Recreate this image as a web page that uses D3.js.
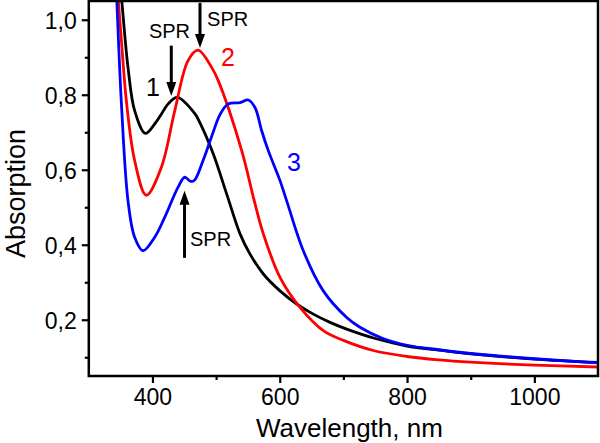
<!DOCTYPE html>
<html>
<head>
<meta charset="utf-8">
<script src="https://cdn.jsdelivr.net/npm/d3@7"></script>
<style>
  html, body { margin: 0; padding: 0; background: #fff; }
  svg { display: block; }
  text { font-family: "Liberation Sans", Arial, Helvetica, sans-serif; }
</style>
</head>
<body>
<svg id="chart" width="600" height="443"></svg>
<script>
// ---- Data ----
const wl1  = [348.5, 351.7, 361.6, 372.1, 388.8, 403.5, 413.9, 424.4, 439, 466.9, 474.7, 495.6, 516.7, 537.6, 553.3, 574.2, 600.4, 626.6, 652.7, 679, 705.2, 750, 800, 850, 900, 1000, 1100];
const abs1 = [1.10, 1.051, 0.873, 0.757, 0.697, 0.722, 0.748, 0.775, 0.793, 0.749, 0.725, 0.642, 0.535, 0.429, 0.375, 0.322, 0.277, 0.242, 0.215, 0.193, 0.175, 0.150, 0.130, 0.119, 0.109, 0.095, 0.086];

const wl2  = [343.5, 346.3, 351, 359, 372.1, 390.3, 413.9, 435, 455.9, 471.6, 493, 503.5, 540.2, 560, 574.2, 600.4, 631.8, 668.4, 700, 747, 800, 850, 900, 1000, 1100];
const abs2 = [1.11, 1.051, 0.95, 0.784, 0.624, 0.532, 0.606, 0.757, 0.891, 0.919, 0.873, 0.837, 0.651, 0.517, 0.429, 0.313, 0.233, 0.171, 0.145, 0.118, 0.102, 0.093, 0.087, 0.079, 0.074];

const wl3  = [342, 344, 351, 361.6, 372, 385.2, 403.5, 419.2, 440.1, 450.7, 460, 466, 479.4, 493.5, 506.1, 518.7, 537.6, 550.6, 561.1, 571.6, 582, 600.4, 610.9, 637, 668.4, 705.2, 726, 762, 800, 850, 900, 1000, 1100];
const abs3 = [1.12, 1.051, 0.784, 0.517, 0.42, 0.384, 0.42, 0.473, 0.553, 0.580, 0.569, 0.572, 0.624, 0.691, 0.747, 0.775, 0.779, 0.786, 0.766, 0.704, 0.651, 0.571, 0.517, 0.384, 0.277, 0.206, 0.180, 0.150, 0.132, 0.120, 0.110, 0.096, 0.085];

const seriesNames  = ["1", "2", "3"];
const seriesColors = ["#000000", "#ff0000", "#0000ff"];

const xMajorTicks = [400, 600, 800, 1000];
const xMinorTicks = [500, 700, 900];
const yMajorTicks = [0.2, 0.4, 0.6, 0.8, 1.0];
const yMinorTicks = [0.1, 0.3, 0.5, 0.7, 0.9];

// annotation anchors in data space (wavelength, absorption)
const arrowsDown = [ {x: 429.6, y0: 0.931, y1: 0.797}, {x: 474.7, y0: 1.045, y1: 0.925} ];
const arrowsUp   = [ {x: 450.4, y0: 0.365, y1: 0.544} ];
const sprLabels  = [ {x: 426.8, y: 0.952, anchor: "middle"}, {x: 485.8, y: 0.984, anchor: "start"}, {x: 459, y: 0.397, anchor: "start"} ];
const numLabels  = [ {x: 389.9, y: 0.797}, {x: 507.7, y: 0.877}, {x: 611.4, y: 0.597} ];

// ---- Layout ----
const mLeft = 88.8, mRight = 598, mTop = 1, mBottom = 376;

const x = d3.scaleLinear().domain([300, 1100]).range([mLeft, mRight]);
const y = d3.scaleLinear().domain([0.05, 1.05]).range([mBottom, mTop]);

const svg = d3.select("#chart");

svg.append("defs").append("clipPath").attr("id", "plotclip")
  .append("rect").attr("x", mLeft).attr("y", mTop).attr("width", mRight - mLeft).attr("height", mBottom - mTop);

// curves
const line = d3.line().x(d => x(d[0])).y(d => y(d[1])).curve(d3.curveCatmullRom.alpha(0.5));
const allSeries = [d3.zip(wl1, abs1), d3.zip(wl2, abs2), d3.zip(wl3, abs3)];
const g = svg.append("g").attr("clip-path", "url(#plotclip)");
allSeries.forEach((s, i) => {
  g.append("path").datum(s).attr("d", line)
    .attr("fill", "none").attr("stroke", seriesColors[i]).attr("stroke-width", 2.8)
    .attr("stroke-linejoin", "round");
});

// frame
svg.append("rect").attr("x", mLeft).attr("y", mTop).attr("width", mRight - mLeft).attr("height", mBottom - mTop)
  .attr("fill", "none").attr("stroke", "#000").attr("stroke-width", 2.5);

// axes ticks
const xAxisMajor = d3.axisBottom(x).tickValues(xMajorTicks).tickSize(7).tickFormat(d3.format("d")).tickPadding(6);
const xAxisMinor = d3.axisBottom(x).tickValues(xMinorTicks).tickSize(4).tickFormat("");
const fmtY = d => d3.format(".1f")(d).replace(".", ",");
const yAxisMajor = d3.axisLeft(y).tickValues(yMajorTicks).tickSize(7).tickFormat(fmtY).tickPadding(5);
const yAxisMinor = d3.axisLeft(y).tickValues(yMinorTicks).tickSize(4).tickFormat("");

function style(sel) {
  sel.select(".domain").remove();
  sel.selectAll("line").attr("stroke", "#000").attr("stroke-width", 2.2);
  sel.selectAll("text").attr("fill", "#000").attr("font-size", 23);
}
svg.append("g").attr("transform", `translate(0,${mBottom})`).call(xAxisMajor).call(style)
  .selectAll("text").attr("dy", "0.68em");
svg.append("g").attr("transform", `translate(0,${mBottom})`).call(xAxisMinor).call(style);
svg.append("g").attr("transform", `translate(${mLeft},0)`).call(yAxisMajor).call(style)
  .selectAll("text").attr("dy", "0.36em");
svg.append("g").attr("transform", `translate(${mLeft},0)`).call(yAxisMinor).call(style);

// axis titles
svg.append("text").attr("x", (mLeft + mRight) / 2 + 6).attr("y", 437)
  .attr("text-anchor", "middle").attr("font-size", 26).text("Wavelength, nm");
svg.append("text").attr("transform", `translate(25,${(mTop + mBottom) / 2 + 5}) rotate(-90)`)
  .attr("text-anchor", "middle").attr("font-size", 27).text("Absorption");

// arrows
const headL = 14, headW = 5;
arrowsDown.forEach(a => {
  const px = x(a.x), p0 = y(a.y0), p1 = y(a.y1);
  svg.append("line").attr("x1", px).attr("x2", px).attr("y1", p0).attr("y2", p1 - headL + 2)
    .attr("stroke", "#000").attr("stroke-width", 3);
  svg.append("path").attr("d", `M${px - headW},${p1 - headL} L${px + headW},${p1 - headL} L${px},${p1} Z`).attr("fill", "#000");
});
arrowsUp.forEach(a => {
  const px = x(a.x), p0 = y(a.y0), p1 = y(a.y1);
  svg.append("line").attr("x1", px).attr("x2", px).attr("y1", p0).attr("y2", p1 + headL - 2)
    .attr("stroke", "#000").attr("stroke-width", 3);
  svg.append("path").attr("d", `M${px - headW},${p1 + headL} L${px + headW},${p1 + headL} L${px},${p1} Z`).attr("fill", "#000");
});

sprLabels.forEach(l => {
  svg.append("text").attr("x", x(l.x)).attr("y", y(l.y)).attr("text-anchor", l.anchor)
    .attr("font-size", 20).attr("fill", "#000").text("SPR");
});
numLabels.forEach((l, i) => {
  svg.append("text").attr("x", x(l.x)).attr("y", y(l.y)).attr("font-size", 25)
    .attr("fill", seriesColors[i]).text(seriesNames[i]);
});
</script>
</body>
</html>
